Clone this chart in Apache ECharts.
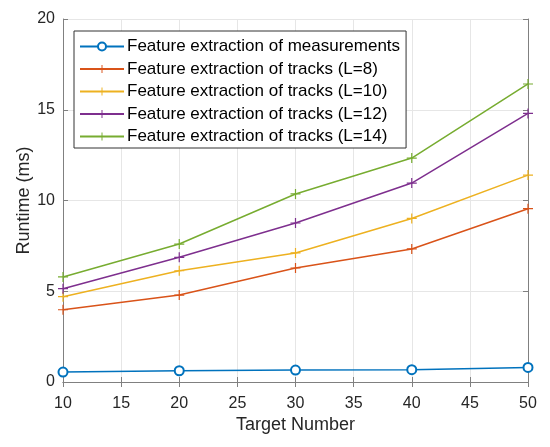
<!DOCTYPE html>
<html>
<head>
<meta charset="utf-8">
<script src="https://cdn.jsdelivr.net/npm/echarts@6/dist/echarts.min.js"></script>
<style>
  html, body { margin: 0; padding: 0; background: #fff; }
  #main { width: 550px; height: 447px; }
</style>
</head>
<body>
<div id="main"></div>
<script>
var targets = [10, 20, 30, 40, 50];
var measurements = [0.55, 0.62, 0.66, 0.68, 0.80];
var tracksL8 = [3.98, 4.79, 6.28, 7.33, 9.55];
var tracksL10 = [4.70, 6.13, 7.11, 9.01, 11.40];
var tracksL12 = [5.14, 6.87, 8.76, 10.96, 14.80];
var tracksL14 = [5.79, 7.60, 10.36, 12.34, 16.42];

var seriesNames = [
    'Feature extraction of measurements',
    'Feature extraction of tracks (L=8)',
    'Feature extraction of tracks (L=10)',
    'Feature extraction of tracks (L=12)',
    'Feature extraction of tracks (L=14)'
];
var seriesData = [measurements, tracksL8, tracksL10, tracksL12, tracksL14];
var colors = ['#0072BD', '#D95319', '#EDB120', '#7E2F8E', '#77AC30'];

var plus = 'path://M4.4,0h1.2v4.4h4.4v1.2h-4.4v4.4h-1.2v-4.4h-4.4v-1.2h4.4z';
var font = 'Liberation Sans, Arial, sans-serif';

function pairs(values) {
    return values.map(function (v, i) { return [targets[i], v]; });
}

var series = seriesData.map(function (values, i) {
    return {
        name: seriesNames[i],
        type: 'line',
        data: pairs(values),
        symbol: i === 0 ? 'emptyCircle' : plus,
        symbolSize: i === 0 ? 9 : 10,
        showAllSymbol: true,
        color: colors[i],
        lineStyle: { color: colors[i], width: 1.5 },
        itemStyle: { color: colors[i], borderWidth: i === 0 ? 1.5 : 0 },
        z: 3
    };
});

var axisGray = '#808080';
var myChart = echarts.init(document.getElementById('main'));
myChart.setOption({
    animation: false,
    textStyle: { fontFamily: font },
    grid: { left: 63, right: 22, top: 19, bottom: 65, show: false },
    legend: {
        orient: 'vertical',
        left: 74,
        top: 31,
        padding: [7, 6, 3, 5],
        itemGap: 5.5,
        itemWidth: 44,
        itemHeight: 10,
        backgroundColor: '#fff',
        borderColor: '#333',
        borderWidth: 1,
        textStyle: { fontSize: 17, lineHeight: 17, color: '#000', fontFamily: font, padding: [0, 0, 0, -2] },
        data: seriesNames
    },
    xAxis: [{
        type: 'value',
        min: 10,
        max: 50,
        interval: 5,
        name: 'Target Number',
        nameLocation: 'middle',
        nameGap: 34,
        nameMoveOverlap: false,
        nameTextStyle: { fontSize: 18, color: '#262626' },
        axisLine: { lineStyle: { color: axisGray } },
        axisTick: { inside: true, length: 5, lineStyle: { color: axisGray } },
        axisLabel: { fontSize: 16, color: '#262626', margin: 14 },
        splitLine: { show: true, lineStyle: { color: '#e6e6e6' } }
    }, {
        type: 'value',
        position: 'top',
        min: 10,
        max: 50,
        interval: 5,
        axisLine: { show: true, lineStyle: { color: axisGray } },
        axisTick: { inside: true, length: 5, lineStyle: { color: axisGray } },
        axisLabel: { show: false },
        splitLine: { show: false }
    }],
    yAxis: [{
        type: 'value',
        min: 0,
        max: 20,
        interval: 5,
        name: 'Runtime (ms)',
        nameLocation: 'middle',
        nameGap: 30,
        nameMoveOverlap: false,
        nameTextStyle: { fontSize: 18, color: '#262626' },
        axisLine: { show: true, lineStyle: { color: axisGray } },
        axisTick: { show: true, inside: true, length: 5, lineStyle: { color: axisGray } },
        axisLabel: { fontSize: 16, color: '#262626', margin: 8 },
        splitLine: { show: true, lineStyle: { color: '#e6e6e6' } }
    }, {
        type: 'value',
        position: 'right',
        min: 0,
        max: 20,
        interval: 5,
        axisLine: { show: true, lineStyle: { color: axisGray } },
        axisTick: { show: true, inside: true, length: 5, lineStyle: { color: axisGray } },
        axisLabel: { show: false },
        splitLine: { show: false }
    }],
    series: series
});
</script>
</body>
</html>
